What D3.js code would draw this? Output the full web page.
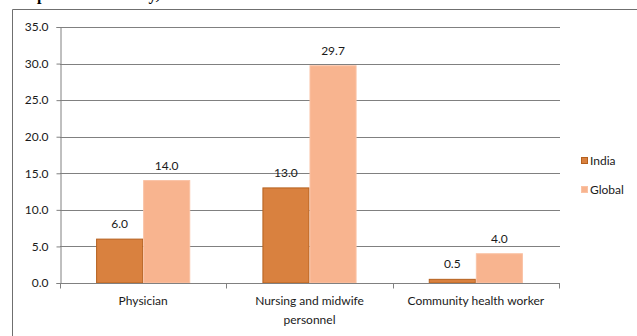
<!DOCTYPE html>
<html>
<head>
<meta charset="utf-8">
<script src="https://cdn.jsdelivr.net/npm/d3@7/dist/d3.min.js"></script>
<style>
  html, body { margin: 0; padding: 0; background: #fff; }
  svg { display: block; }
  text { font-family: Lato, "Open Sans", sans-serif; fill: #1a1a1a; }
</style>
</head>
<body>
<svg id="chart" width="637" height="336"></svg>
<script>
// Health workforce per 10,000 population
const categories = ["Physician", "Nursing and midwife personnel", "Community health worker"];
const categoryLines = [["Physician"], ["Nursing and midwife", "personnel"], ["Community health worker"]];
const seriesNames = ["India", "Global"];
const indiaValues = [6.0, 13.0, 0.5];
const globalValues = [14.0, 29.7, 4.0];
const yTicks = [0, 5, 10, 15, 20, 25, 30, 35];

const colors = { India: "#D9813F", Global: "#F8B48F" };
const strokes = { India: "#B5601E", Global: "#FAC2A4" };

const svg = d3.select("#chart");

// frame around the figure (continues past the right and bottom edges)
svg.append("path")
  .attr("d", "M12.5,345 V9.5 H650")
  .attr("fill", "none")
  .attr("stroke", "#6f6f6f")
  .attr("stroke-width", 1);

// heading above the frame, only its descenders fall inside the view
svg.append("text")
  .attr("x", 37).attr("y", 0)
  .style("font-family", "'Liberation Serif', serif")
  .style("font-weight", "bold")
  .style("font-size", "16px")
  .style("fill", "#000")
  .text("personnel density, India and Global");

const plotLeft = 60, plotRight = 559, plotTop = 27, plotBottom = 283;

const x0 = d3.scaleBand().domain(categories).range([plotLeft, plotRight]).paddingInner(0).paddingOuter(0);
const bw = x0.bandwidth();
const barW = bw * 0.283;
const x1 = d3.scaleBand().domain(seriesNames).range([bw / 2 - barW, bw / 2 + barW]).padding(0);
const y = d3.scaleLinear().domain([0, 35]).range([plotBottom, plotTop]);

// horizontal gridlines
svg.append("g").selectAll("line")
  .data(yTicks.filter(d => d > 0))
  .join("line")
  .attr("x1", plotLeft).attr("x2", plotRight + 1)
  .attr("y1", d => Math.round(y(d)) + 0.5).attr("y2", d => Math.round(y(d)) + 0.5)
  .attr("stroke", "#808080").attr("stroke-width", 1);

// y axis
const yAxis = d3.axisLeft(y).tickValues(yTicks).tickFormat(d3.format(".1f")).tickSize(4).tickPadding(8);
const gy = svg.append("g").attr("transform", `translate(${plotLeft + 0.5},0)`).call(yAxis);
gy.select(".domain").attr("stroke", "#808080");
gy.selectAll(".tick line").attr("stroke", "#808080");
gy.selectAll(".tick text").style("font-size", "12px").style("font-family", "Lato, sans-serif").attr("fill", "#1a1a1a");

// bars
const rows = categories.map((c, i) => ({ cat: c, India: indiaValues[i], Global: globalValues[i] }));
const groups = svg.append("g").selectAll("g")
  .data(rows)
  .join("g")
  .attr("transform", d => `translate(${x0(d.cat)},0)`);

groups.selectAll("rect")
  .data(d => seriesNames.map(s => ({ s, v: d[s] })))
  .join("rect")
  .attr("x", d => x1(d.s) + 0.5)
  .attr("y", d => y(d.v))
  .attr("width", x1.bandwidth() - 1)
  .attr("height", d => y(0) - y(d.v))
  .attr("fill", d => colors[d.s])
  .attr("stroke", d => strokes[d.s])
  .attr("stroke-width", 1);

groups.selectAll("text.val")
  .data(d => seriesNames.map(s => ({ s, v: d[s] })))
  .join("text")
  .attr("class", "val")
  .attr("x", d => x1(d.s) + x1.bandwidth() / 2)
  .attr("y", d => y(d.v) - 11)
  .attr("text-anchor", "middle")
  .style("font-size", "12px")
  .text(d => d3.format(".1f")(d.v));

// x axis line and category boundary ticks
const gx = svg.append("g").attr("transform", `translate(0,${plotBottom + 0.5})`);
gx.append("line").attr("x1", plotLeft).attr("x2", plotRight + 1).attr("stroke", "#808080");
const bounds = categories.map(c => x0(c)).concat([plotRight]);
gx.selectAll("line.tk").data(bounds).join("line")
  .attr("class", "tk")
  .attr("x1", d => Math.round(d) + 0.5).attr("x2", d => Math.round(d) + 0.5)
  .attr("y1", 0).attr("y2", 5)
  .attr("stroke", "#808080");

// category labels
categories.forEach((c, i) => {
  const t = svg.append("text")
    .attr("x", x0(c) + bw / 2)
    .attr("y", plotBottom + 22)
    .attr("text-anchor", "middle")
    .style("font-size", "12px");
  categoryLines[i].forEach((ln, j) => {
    t.append("tspan").attr("x", x0(c) + bw / 2).attr("dy", j === 0 ? 0 : 19).text(ln);
  });
});

// legend
const legend = svg.append("g").selectAll("g")
  .data(seriesNames)
  .join("g")
  .attr("transform", (d, i) => `translate(581,${160 + i * 29})`);
legend.append("rect")
  .attr("x", 0.5).attr("y", -2.5).attr("width", 6).attr("height", 6)
  .attr("fill", d => colors[d]).attr("stroke", d => strokes[d]);
legend.append("text")
  .attr("x", 9).attr("y", 5)
  .style("font-size", "12px")
  .text(d => d);
</script>
</body>
</html>
